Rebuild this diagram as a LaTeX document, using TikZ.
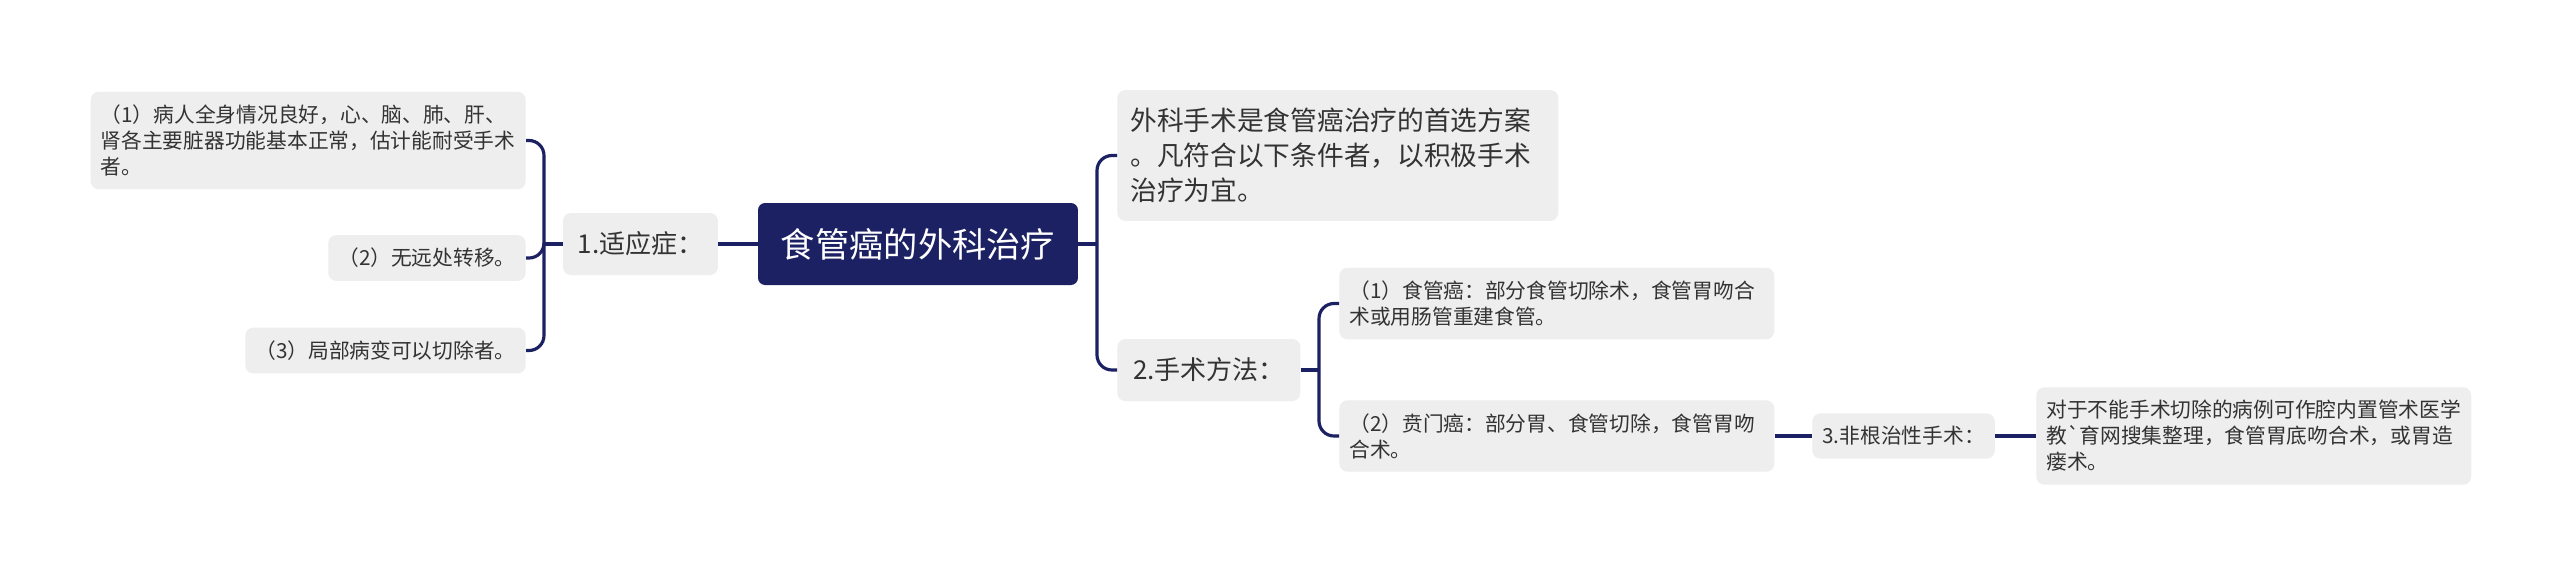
\documentclass[tikz,border=0pt]{standalone}
\usepackage{fontspec}
\usetikzlibrary{positioning}
\newfontfamily\cnfont{Noto Sans CJK SC}
\definecolor{navy}{RGB}{28,33,99}
\definecolor{boxgray}{RGB}{238,238,238}
\definecolor{txtgray}{RGB}{51,51,51}

\begin{document}
\begin{tikzpicture}[x=0.02cm,y=-0.02cm,
  every node/.style={font=\cnfont,text=txtgray},
  root/.style={fill=navy,rounded corners=0.14cm,text=white,font=\cnfont\fontsize{19.5}{24}\selectfont,minimum width=6.4cm,minimum height=1.64cm},
  topic/.style={fill=boxgray,rounded corners=0.16cm,font=\cnfont\fontsize{14.8}{18}\selectfont,minimum height=1.24cm},
  note/.style={fill=boxgray,rounded corners=0.16cm,font=\cnfont\fontsize{15.2}{19.9}\selectfont,align=left,text width=8.3cm,inner xsep=0.26cm,inner ysep=0.36cm},
  leaf/.style={fill=boxgray,rounded corners=0.16cm,font=\cnfont\fontsize{11.8}{14.8}\selectfont,align=left,inner xsep=0.2cm,inner ysep=0.26cm},
  wide/.style={text width=8.3cm},
  link/.style={draw=navy,line width=1.8pt,rounded corners=0.3cm}]
\fill[white] (0,0) rectangle (2560,576);
\useasboundingbox (0,0) rectangle (2560,576);

% centre
\node[root] (root) at (918,244) {食管癌的外科治疗};

% left branch
\node[topic,minimum width=3.1cm] (fit) at (640.5,244) {1.适应症：};
\node[leaf,wide,anchor=east] (fit1) at (526,140.5) {（1）病人全身情况良好，心、脑、肺、肝、\\肾各主要脏器功能基本正常，估计能耐受手术\\者。};
\node[leaf,anchor=east] (fit2) at (526,258) {（2）无远处转移。};
\node[leaf,anchor=east] (fit3) at (526,350.5) {（3）局部病变可以切除者。};

% right branch
\node[note,anchor=west] (intro) at (1117,155.5) {外科手术是食管癌治疗的首选方案\\。凡符合以下条件者，以积极手术\\治疗为宜。};
\node[topic,minimum width=3.66cm,anchor=west] (op) at (1117,370) {2.手术方法：};
\node[leaf,wide,anchor=west] (op1) at (1339,303.5) {（1）食管癌：部分食管切除术，食管胃吻合\\术或用肠管重建食管。};
\node[leaf,wide,anchor=west] (op2) at (1339,436) {（2）贲门癌：部分胃、食管切除，食管胃吻\\合术。};
\node[leaf,anchor=west] (pal) at (1812,436) {3.非根治性手术：};
\node[leaf,wide,anchor=west] (pal1) at (2036,436) {对于不能手术切除的病例可作腔内置管术医学\\教`育网搜集整理，食管胃底吻合术，或胃造\\瘘术。};

% connectors
\coordinate (jl) at (544,244);
\coordinate (jr) at (1097,244);
\coordinate (jo) at (1319,370);
\draw[link] (root.west) -- (fit.east);
\draw[link] (fit.west) -- (jl);
\draw[link] (jl) |- (fit1.east);
\draw[link] (jl) |- (fit2.east);
\draw[link] (jl) |- (fit3.east);
\draw[link] (root.east) -- (jr);
\draw[link] (jr) |- (intro.west);
\draw[link] (jr) |- (op.west);
\draw[link] (op.east) -- (jo);
\draw[link] (jo) |- (op1.west);
\draw[link] (jo) |- (op2.west);
\draw[link] (op2.east) -- (pal.west);
\draw[link] (pal.east) -- (pal1.west);
\end{tikzpicture}
\end{document}
